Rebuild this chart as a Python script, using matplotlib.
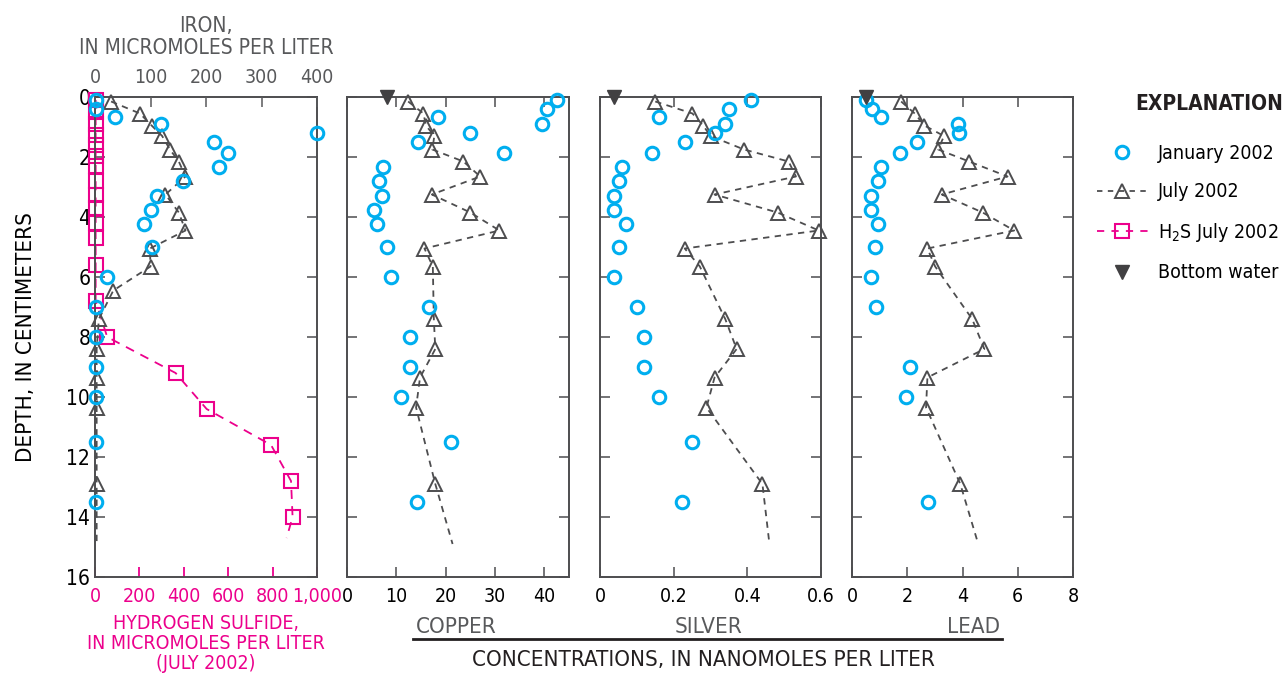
import numpy as np
import matplotlib
matplotlib.use("Agg")
import matplotlib.pyplot as plt
from matplotlib.lines import Line2D
from matplotlib.ticker import FuncFormatter

plt.rcParams['font.family'] = ['DejaVu Sans']
plt.rcParams['font.stretch'] = 'condensed'

nan = np.nan

# January 2002 (circles)
jan_depth = [0.1, 0.4, 0.65, 0.9, 1.2, 1.5, 1.85, 2.33, 2.8, 3.3, 3.77, 4.23, 5.0, 6.0, 7.0, 8.0, 9.0, 10.0, 11.5, 13.5]
iron_jan = [1, 1, 36, 119, 400, 215, 240, 224, 158, 112, 100, 88, 102, 22, 1, 1, 1, 1, 1, 1]
copper_jan = [42.5, 40.5, 18.5, 39.5, 24.9, 14.3, 31.9, 7.2, 6.5, 7.0, 5.5, 6.1, 8.2, 8.9, 16.7, 12.7, 12.7, 10.9, 21.0, 14.1]
silver_jan = [0.41, 0.351, 0.16, 0.34, 0.312, 0.231, 0.14, 0.06, 0.051, 0.039, 0.039, 0.07, 0.051, 0.039, 0.10, 0.12, 0.12, 0.16, 0.25, 0.222]
lead_jan = [0.51, 0.72, 1.05, 3.82, 3.88, 2.34, 1.74, 1.06, 0.95, 0.69, 0.69, 0.95, 0.82, 0.69, 0.87, nan, 2.1, 1.94, nan, 2.74]

# July 2002 (triangles); last entry of each is the trend line end (no marker)
jul_depth = [0.15, 0.55, 0.95, 1.3, 1.75, 2.15, 2.65, 3.25, 3.85, 4.45, 5.05, 5.65, 6.45, 7.4, 8.4, 9.35, 10.35, 12.9, 14.9]
iron_jul = [29, 81, 102, 121, 135, 151, 163, 127, 151, 163, 99, 100, 33, 7, 3, 3, 3, 3, 3]
copper_jul = [12.4, 15.5, 16.0, 17.7, 17.3, 23.6, 27.0, 17.2, 25.0, 30.9, 15.7, 17.4, nan, 17.6, 17.9, 14.8, 14.0, 17.9, 21.4]
silver_jul = [0.15, 0.251, 0.28, 0.30, 0.391, 0.512, 0.532, 0.311, 0.482, 0.594, 0.23, 0.271, nan, 0.34, 0.371, 0.311, 0.289, 0.441, 0.46]
lead_jul = [1.78, 2.27, 2.62, 3.33, 3.12, 4.24, 5.63, 3.25, 4.73, 5.87, 2.73, 3.01, nan, 4.35, 4.79, 2.73, 2.68, 3.92, 4.57]

# H2S July 2002 (squares); last entry is the line end
h2s_depth = [0.1, 0.5, 0.9, 1.25, 1.6, 1.95, 2.3, 2.8, 3.25, 3.7, 4.2, 4.7, 5.6, 6.8, 8.0, 9.2, 10.4, 11.6, 12.8, 14.0, 14.7]
h2s = [3, 3, 3, 3, 3, 3, 3, 3, 3, 3, 3, 3, 3, 3, 55, 363, 503, 793, 883, 890, 863]

# bottom water (depth 0)
bottom_copper = 8.2
bottom_silver = 0.039
bottom_lead = 0.51

CYAN = '#00aeef'
GRAY = '#4d4d4f'
PINK = '#ec008c'
TXTG = '#58595b'

fig = plt.figure(figsize=(12.86, 6.73), dpi=100)
W, H = 1286, 673


def box(x0, x1):
    return [x0 / W, 1 - 577 / H, (x1 - x0) / W, 480 / H]


def style_axes(ax):
    for s in ax.spines.values():
        s.set_color(GRAY)
        s.set_linewidth(1.4)
    ax.set_ylim(16, 0)
    ax.set_yticks(range(0, 17, 2))
    ax.tick_params(axis='y', direction='in', length=7.5, width=1.1, color=GRAY,
                   left=True, right=True, labelsize=14)
    ax.tick_params(axis='x', direction='in', length=7.5, width=1.1, color=GRAY,
                   top=True, bottom=True, labelsize=14, pad=7)


def plot_jan(ax, vals):
    d = np.array(jan_depth)
    v = np.array(vals, dtype=float)
    m = ~np.isnan(v)
    ax.plot(v[m], d[m], 'o', ms=9, mfc='none', mec=CYAN, mew=2.2, clip_on=False, zorder=4)


def plot_jul(ax, vals):
    d = np.array(jul_depth)
    v = np.array(vals, dtype=float)
    m = ~np.isnan(v)
    n = m.sum()
    ax.plot(v[m], d[m], ls=(0, (3.5, 3)), color=GRAY, lw=1.3, marker='^', ms=10,
            mfc='none', mec=GRAY, mew=1.4, markevery=list(range(n - 1)), clip_on=False, zorder=3)


# panel 1: H2S (bottom axis) + iron (top axis)
axh = fig.add_axes(box(95, 317))
style_axes(axh)
axh.plot(h2s, h2s_depth, ls=(0, (5, 4)), color=PINK, lw=1.3, marker='s', ms=10,
         mfc='none', mec=PINK, mew=1.5, markevery=list(range(len(h2s) - 1)), clip_on=False, zorder=2)
axh.set_xlim(0, 1000)
axh.set_xticks([0, 200, 400, 600, 800, 1000])
axh.xaxis.set_major_formatter(FuncFormatter(lambda x, p: f'{int(x):,}'))
axh.tick_params(axis='x', colors=PINK, top=False, length=7.5, width=1.3)
axh.set_yticklabels([str(i) for i in range(0, 17, 2)])
axh.tick_params(axis='y', labelsize=15)
axh.set_xlabel('HYDROGEN SULFIDE,\nIN MICROMOLES PER LITER\n(JULY 2002)', color=PINK,
               fontsize=14, linespacing=1.05, labelpad=6)
axh.set_ylabel('DEPTH, IN CENTIMETERS', fontsize=16, labelpad=22)

axfe = axh.twiny()
axfe.set_xlim(0, 400)
axfe.set_ylim(16, 0)
axfe.set_xticks([0, 100, 200, 300, 400])
axfe.tick_params(axis='x', direction='in', length=7.5, width=1.1, colors=TXTG, labelsize=14, pad=7)
axfe.set_xlabel('IRON,\nIN MICROMOLES PER LITER', color=TXTG, fontsize=15, linespacing=1.15, labelpad=10)
for s in axfe.spines.values():
    s.set_visible(False)
plot_jul(axfe, iron_jul)
plot_jan(axfe, iron_jan)

# panels 2-4
metal_panels = [
    ((347, 569), (0, 45), [0, 10, 20, 30, 40], ['0', '10', '20', '30', '40'], copper_jan, copper_jul, bottom_copper),
    ((600, 821), (0, 0.6), [0, 0.2, 0.4, 0.6], ['0', '0.2', '0.4', '0.6'], silver_jan, silver_jul, bottom_silver),
    ((852, 1073), (0, 8), [0, 2, 4, 6, 8], ['0', '2', '4', '6', '8'], lead_jan, lead_jul, bottom_lead),
]
for (x0, x1), xlim, ticks, labels, jan, jul, bw in metal_panels:
    ax = fig.add_axes(box(x0, x1))
    style_axes(ax)
    ax.set_xlim(*xlim)
    ax.set_xticks(ticks)
    ax.set_xticklabels(labels)
    ax.tick_params(axis='x', labeltop=False)
    ax.set_yticklabels([])
    plot_jul(ax, jul)
    plot_jan(ax, jan)
    ax.plot([bw], [0], 'v', color='#414042', ms=10, clip_on=False, zorder=5)

# group labels under metal panels
fig.text(416 / W, 1 - 627 / H, 'COPPER', color=TXTG, fontsize=16, ha='left', va='center')
fig.text(708 / W, 1 - 627 / H, 'SILVER', color=TXTG, fontsize=16, ha='center', va='center')
fig.text(1000 / W, 1 - 627 / H, 'LEAD', color=TXTG, fontsize=16, ha='right', va='center')
fig.add_artist(Line2D([413 / W, 1002 / W], [1 - 639 / H, 1 - 639 / H], color='#231f20', lw=2))
fig.text(703 / W, 1 - 660 / H, 'CONCENTRATIONS, IN NANOMOLES PER LITER', color='#231f20',
         fontsize=16, ha='center', va='center')

# explanation
fig.text(1283 / W, 1 - 104 / H, 'EXPLANATION', fontsize=15, fontweight='bold',
         ha='right', va='center', color='#231f20')
handles = [
    Line2D([], [], ls='none', marker='o', ms=9, mfc='none', mec=CYAN, mew=2.2),
    Line2D([], [], ls=(0, (3, 3)), color=GRAY, lw=1.3, marker='^', ms=10, mfc='none', mec=GRAY, mew=1.4),
    Line2D([], [], ls=(0, (4, 4)), color=PINK, lw=1.3, marker='s', ms=10, mfc='none', mec=PINK, mew=1.5),
    Line2D([], [], ls='none', marker='v', ms=10, color='#414042'),
]
leg = fig.legend(handles, ['January 2002', 'July 2002', 'H$_2$S July 2002', 'Bottom water'],
                 loc='upper left', bbox_to_anchor=(1097 / W, 1 - 144 / H), frameon=False,
                 fontsize=14, handlelength=2.6, handletextpad=0.55, labelspacing=1.0,
                 borderaxespad=0, borderpad=0)

fig.savefig('out.png', dpi=100)
